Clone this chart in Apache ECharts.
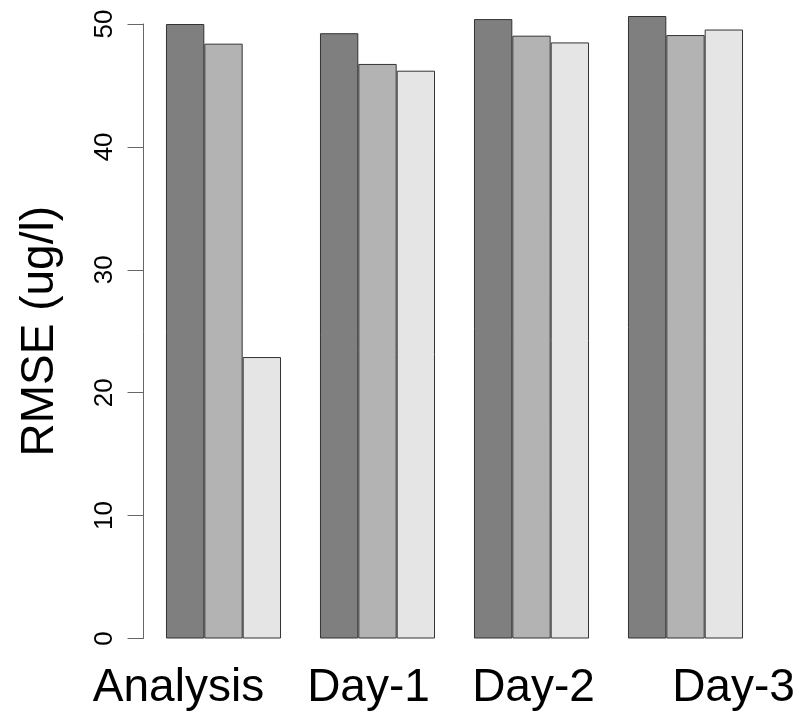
<!DOCTYPE html>
<html>
<head>
<meta charset="utf-8">
<script src="https://cdn.jsdelivr.net/npm/echarts@6/dist/echarts.min.js"></script>
<style>
  html, body { margin: 0; padding: 0; background: #fff; }
  #chart { width: 800px; height: 714px; }
</style>
</head>
<body>
<div id="chart"></div>
<script>
// data
const categories = ['Analysis', 'Day-1', 'Day-2', 'Day-3'];
const seriesA = [50.0, 49.25, 50.4, 50.65];
const seriesB = [48.4, 46.75, 49.05, 49.1];
const seriesC = [22.9, 46.2, 48.5, 49.55];
const yTicks = [0, 10, 20, 30, 40, 50];

// horizontal nudge of each category label (px), labels are not centred on groups
const labelShift = [-45, -9, 2, 48];

const chart = echarts.init(document.getElementById('chart'));

const fills = ['#7f7f7f', '#b3b3b3', '#e5e5e5'];

function barSeries(values, i) {
    return {
        type: 'bar',
        data: values,
        clip: false,
        barGap: 0,
        barCategoryGap: '25.3%',
        itemStyle: {
            color: fills[i],
            borderColor: '#333',
            borderWidth: 1
        },
        emphasis: { disabled: true }
    };
}

const option = {
    animation: false,
    grid: {
        left: 146.5,
        right: 37.5,
        top: 24,
        bottom: 75.5
    },
    xAxis: {
        type: 'category',
        data: categories.map((c, i) => {
            const s = labelShift[i];
            return {
                value: c,
                textStyle: { padding: s >= 0 ? [0, 0, 0, 2 * s] : [0, -2 * s, 0, 0] }
            };
        }),
        axisLine: { show: false },
        axisTick: { show: false },
        axisLabel: {
            color: '#000',
            fontFamily: 'Liberation Sans',
            fontSize: 46,
            margin: 27,
            interval: 0
        }
    },
    yAxis: {
        type: 'value',
        min: 0,
        max: 50,
        interval: 10,
        offset: 3,
        splitLine: { show: false },
        axisLine: { show: true, lineStyle: { color: '#666', width: 1 } },
        axisTick: { show: true, length: 16, lineStyle: { color: '#666' } },
        axisLabel: {
            rotate: 90,
            color: '#000',
            fontFamily: 'Liberation Sans',
            fontSize: 26,
            margin: 26,
            formatter: v => (yTicks.indexOf(v) >= 0 ? String(v) : '')
        },
        name: 'RMSE (ug/l)',
        nameLocation: 'middle',
        nameRotate: 90,
        nameGap: 80,
        nameTextStyle: {
            color: '#000',
            fontFamily: 'Liberation Sans',
            fontSize: 46
        }
    },
    series: [
        barSeries(seriesA, 0),
        barSeries(seriesB, 1),
        barSeries(seriesC, 2)
    ]
};

chart.setOption(option);
</script>
</body>
</html>
